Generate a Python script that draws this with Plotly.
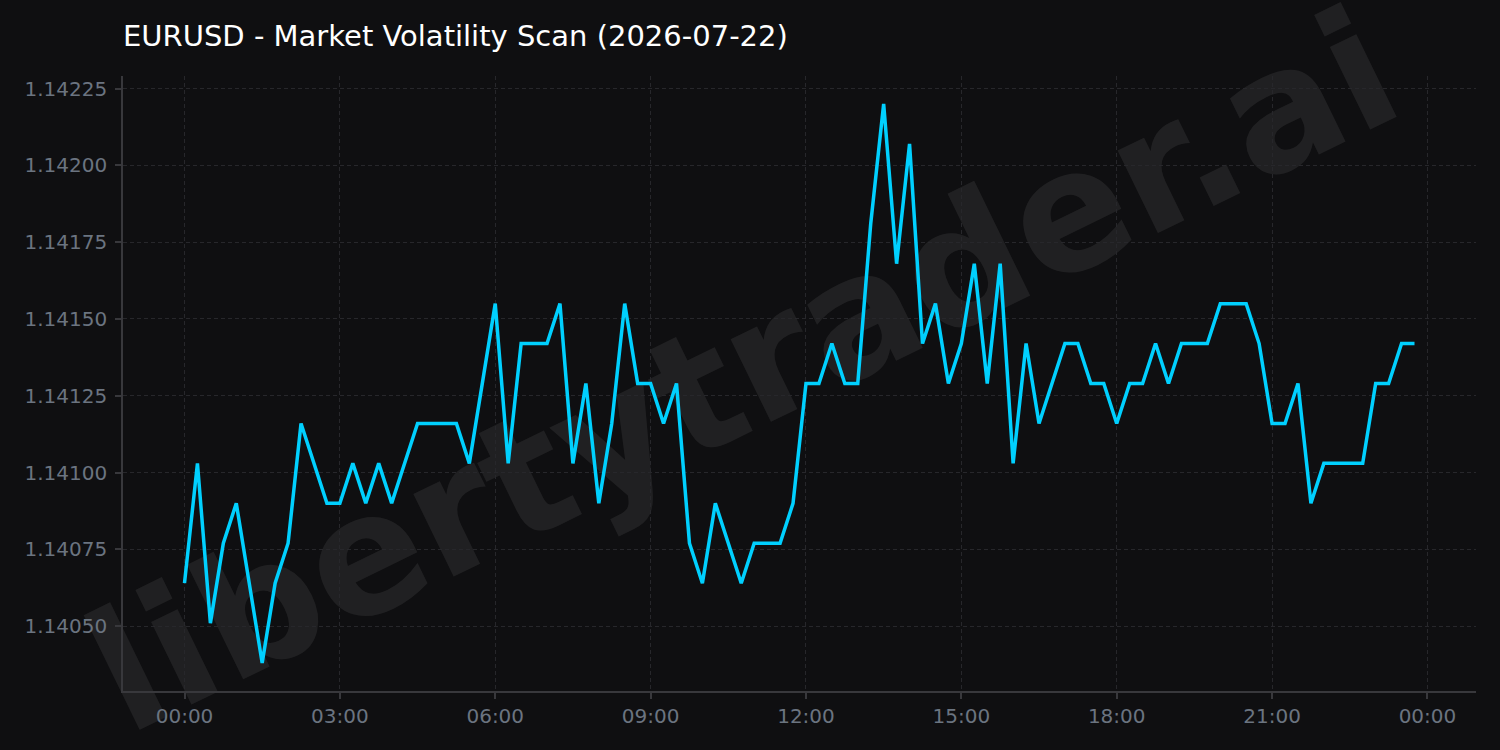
import base64
import pandas as pd
import plotly.graph_objects as go

# ---- data ----
start_time = "2026-07-22 00:00"
n_points = 96
times = pd.date_range(start_time, periods=n_points, freq="15min")
prices = [
    1.14064, 1.14103, 1.14051, 1.14077, 1.14090, 1.14064, 1.14038, 1.14064, 1.14077, 1.14116,
    1.14103, 1.14090, 1.14090, 1.14103, 1.14090, 1.14103, 1.14090, 1.14103, 1.14116, 1.14116,
    1.14116, 1.14116, 1.14103, 1.14129, 1.14155, 1.14103, 1.14142, 1.14142, 1.14142, 1.14155,
    1.14103, 1.14129, 1.14090, 1.14116, 1.14155, 1.14129, 1.14129, 1.14116, 1.14129, 1.14077,
    1.14064, 1.14090, 1.14077, 1.14064, 1.14077, 1.14077, 1.14077, 1.14090, 1.14129, 1.14129,
    1.14142, 1.14129, 1.14129, 1.14181, 1.14220, 1.14168, 1.14207, 1.14142, 1.14155, 1.14129,
    1.14142, 1.14168, 1.14129, 1.14168, 1.14103, 1.14142, 1.14116, 1.14129, 1.14142, 1.14142,
    1.14129, 1.14129, 1.14116, 1.14129, 1.14129, 1.14142, 1.14129, 1.14142, 1.14142, 1.14142,
    1.14155, 1.14155, 1.14155, 1.14142, 1.14116, 1.14116, 1.14129, 1.14090, 1.14103, 1.14103,
    1.14103, 1.14103, 1.14129, 1.14129, 1.14142, 1.14142,
]
ytick_vals = [1.14050, 1.14075, 1.14100, 1.14125, 1.14150, 1.14175, 1.14200, 1.14225]
title_text = "EURUSD - Market Volatility Scan (2026-07-22)"
watermark_text = "libertytrader.ai"

# ---- styling ----
BG = "#0f0f11"
LINE = "#00d0ff"
GRID = "#27272b"
AXIS = "#38383c"
TICK_FONT = "#6b7480"

W, H = 1500, 750
ML, MR, MT, MB = 123, 24, 76, 59
pw, ph = W - ML - MR, H - MT - MB

# axis ranges with 5% padding
span_t = times[-1] - times[0]
x_range = [times[0] - span_t * 0.05, times[-1] + span_t * 0.05]
ymin, ymax = min(prices), max(prices)
pad = (ymax - ymin) * 0.05
y_range = [ymin - pad, ymax + pad]

# watermark as svg image below the grid
svg = f'''<svg xmlns="http://www.w3.org/2000/svg" width="{W}" height="{H}" viewBox="0 0 {W} {H}">
<text x="748" y="382" font-family="DejaVu Sans" font-weight="bold" font-size="168"
 fill="#ffffff" fill-opacity="0.075" text-anchor="middle" dominant-baseline="middle"
 transform="rotate(-26 748 382)">{watermark_text}</text></svg>'''
svg_uri = "data:image/svg+xml;base64," + base64.b64encode(svg.encode()).decode()

fig = go.Figure()
fig.add_trace(go.Scatter(
    x=times, y=prices, mode="lines",
    line=dict(color=LINE, width=3.5), hoverinfo="x+y", showlegend=False,
))

fig.add_layout_image(dict(
    source=svg_uri, xref="paper", yref="paper",
    x=-ML / pw, y=1 + MT / ph, sizex=W / pw, sizey=H / ph,
    xanchor="left", yanchor="top", sizing="stretch", layer="below",
))

fig.update_layout(
    width=W, height=H,
    margin=dict(l=ML, r=MR, t=MT, b=MB, pad=0),
    paper_bgcolor=BG, plot_bgcolor="rgba(0,0,0,0)",
    font=dict(family="DejaVu Sans", color=TICK_FONT, size=20),
    title=dict(text=title_text, x=ML / W, xanchor="left", xref="container",
               y=1 - 36 / H, yanchor="middle", yref="container",
               font=dict(family="DejaVu Sans", size=29, color="#ffffff")),
    showlegend=False,
)
fig.update_xaxes(
    type="date", range=x_range,
    tick0=start_time, dtick=3 * 3600 * 1000, tickformat="%H:%M",
    showgrid=True, gridcolor=GRID, griddash="4px,3px", gridwidth=1,
    showline=True, linecolor=AXIS, linewidth=1.5,
    ticks="outside", ticklen=6, tickcolor=AXIS, tickwidth=1.5,
    tickfont=dict(size=20, color=TICK_FONT), zeroline=False,
)
fig.update_yaxes(
    range=y_range, tickvals=ytick_vals, tickformat=".5f",
    showgrid=True, gridcolor=GRID, griddash="4px,3px", gridwidth=1,
    showline=True, linecolor=AXIS, linewidth=1.5,
    ticks="outside", ticklen=6, tickcolor=AXIS, tickwidth=1.5,
    tickfont=dict(size=20, color=TICK_FONT), zeroline=False,
    ticklabelstandoff=4,
)

fig.write_html("out.html")
